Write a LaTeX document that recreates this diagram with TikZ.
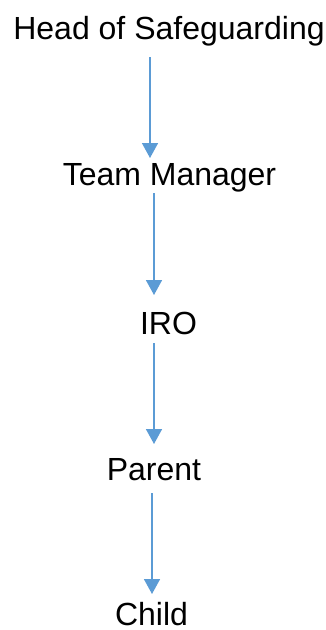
\documentclass[tikz,border=0pt]{standalone}
\usepackage{fontspec}
\setmainfont{Liberation Sans}
\usetikzlibrary{arrows.meta}
\definecolor{arrowblue}{HTML}{5B9BD5}
\tikzset{
  lbl/.style={anchor=base, inner sep=0pt, font=\fontsize{32}{38}\selectfont, text=black},
  conn/.style={draw=arrowblue, line width=1.6pt, -{Triangle[width=16pt,length=15pt]}, fill=arrowblue}
}
\begin{document}
\begin{tikzpicture}[x=1pt,y=-1pt]
\useasboundingbox (0,0) rectangle (326,630);
\node[lbl] (head) at (169,39) {Head of Safeguarding};
\node[lbl] (tm) at (169.5,185) {Team Manager};
\node[lbl] (iro) at (168.5,334) {IRO};
\node[lbl] (parent) at (154,480) {Parent};
\node[lbl] (child) at (151.5,625) {Child};
\coordinate (a1s) at (150,57);
\coordinate (a1e) at (150,158);
\coordinate (a2s) at (154,193);
\coordinate (a2e) at (154,295);
\coordinate (a3s) at (154,343);
\coordinate (a3e) at (154,444);
\coordinate (a4s) at (152,493);
\coordinate (a4e) at (152,594);
\draw[conn] (a1s) -- (a1e);
\draw[conn] (a2s) -- (a2e);
\draw[conn] (a3s) -- (a3e);
\draw[conn] (a4s) -- (a4e);
\end{tikzpicture}
\end{document}
